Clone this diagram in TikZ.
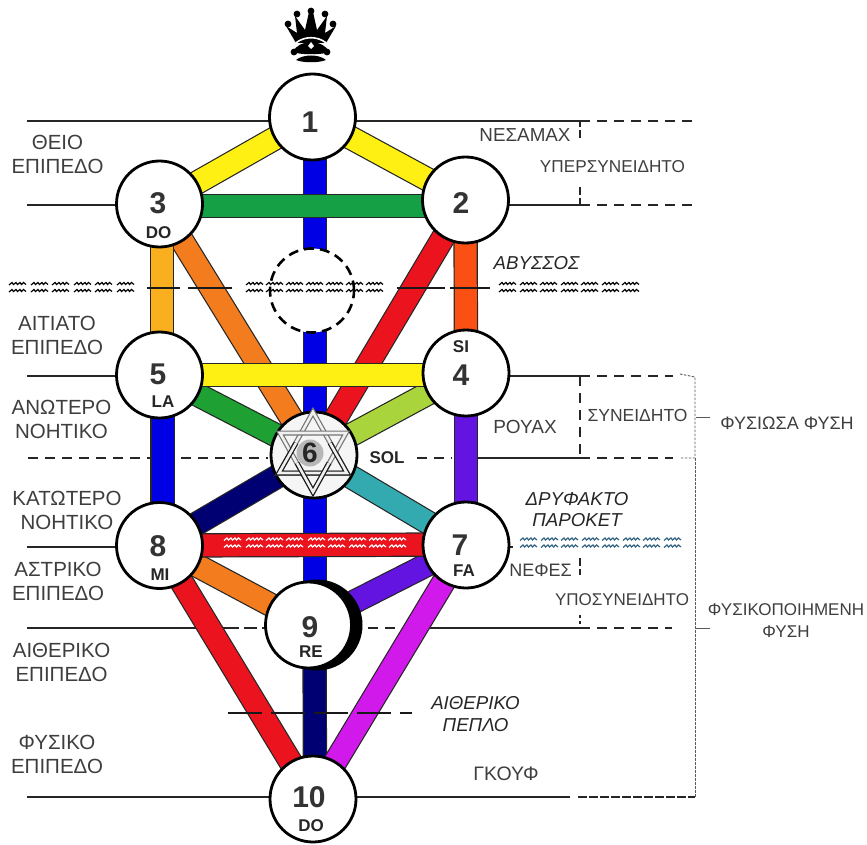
\documentclass[tikz,border=0pt]{standalone}
\usepackage{fontspec}
\setmainfont{Liberation Sans}
\usetikzlibrary{backgrounds}
\definecolor{textgray}{RGB}{62,62,62}
\definecolor{barblue}{RGB}{0,0,228}
\definecolor{bargreen}{RGB}{22,160,70}
\definecolor{baryellow}{RGB}{255,240,20}
\definecolor{baramber}{RGB}{250,175,30}
\definecolor{barorange}{RGB}{243,125,30}
\definecolor{barflame}{RGB}{250,80,20}
\definecolor{barred}{RGB}{235,20,30}
\definecolor{barlime}{RGB}{170,212,60}
\definecolor{barleaf}{RGB}{30,160,50}
\definecolor{barviolet}{RGB}{100,20,225}
\definecolor{barnavy}{RGB}{0,0,115}
\definecolor{barteal}{RGB}{50,170,175}
\definecolor{barmagenta}{RGB}{210,25,235}
\definecolor{wavesea}{RGB}{50,100,130}
\begin{document}
\begin{tikzpicture}[x=1pt,y=-1pt]
          \tikzset{
            sefira/.style = { circle, draw, fill = white, line width = 2.8pt,
              minimum size = 86pt, inner sep = 0pt },
            numeral/.style = { inner sep = 0pt, text = black!80,
              font = \fontsize{30}{30}\selectfont\bfseries },
            note/.style = { inner sep = 0pt, text = black!85,
              font = \fontsize{17}{17}\selectfont\bfseries },
            plane/.style = { inner sep = 0pt, align = center, text = textgray,
              font = \fontsize{20.5}{24}\selectfont },
            state/.style = { inner sep = 0pt, align = center, text = textgray,
              font = \fontsize{17.2}{22}\selectfont },
            veil/.style = { inner sep = 0pt, align = center, text = black!85,
              font = \fontsize{18.7}{21.5}\selectfont\itshape },
            bar/.style = { draw = black!85, line width = 1.2pt,
              double = #1, double distance = 22pt },
            level/.style = { line width = 2pt, black!85 },
            dashlevel/.style = { line width = 2pt, black!85,
              dash pattern = on 10pt off 7pt },
            abyssline/.style = { line width = 2.6pt, black!90 },
            bracket/.style = { line width = .9pt, black!65,
              dash pattern = on 2.5pt off 1.5pt },
            starline/.style = { line width = 1.2pt, double = black!6,
              double distance = 2.6pt, line join = miter },
            wavemark/.pic = {
              \draw[line width = 1.2pt, pic actions] (-9,-2) -- (-6,-4.5) -- (-4.5,-2.5) -- (-2,-4.5)
                -- (-.5,-2.5) -- (2,-4.5) -- (3.5,-2.5) -- (5.5,-4.5) -- (8,-2.5);
              \draw[line width = 1.2pt, pic actions] (-9,5) -- (-6,2.5) -- (-4.5,4.5) -- (-2,2.5)
                -- (-.5,4.5) -- (2,2.5) -- (3.5,4.5) -- (5.5,2.5) -- (8,4.5);
            } }
          \useasboundingbox (0,0) rectangle (867,845);

          % crown
          \fill[black] (296,43) -- (286,26) -- (297,33) -- (295,16) -- (305,30) -- (309,12) -- (313,12)
            -- (317,30) -- (327,16) -- (325,33) -- (336,26) -- (326,43) -- cycle;
          \foreach \x/\y in {288/24,297/14,311/11,325/14,333/24,294/52,327/52}
            \fill[black] (\x,\y) circle (3.4pt);
          \draw[white, line width = 1.6pt] (291,49) .. controls (299,34) and (323,34) .. (331,49);
          \fill[black] (293,52) .. controls (298,39) and (324,39) .. (329,52)
            .. controls (323,55) and (299,55) .. cycle;
          \fill[white] (308,46) -- (311,42) -- (314,46) -- (311,49) -- cycle;
          \fill[black] (296,60) .. controls (303,54) and (319,54) .. (326,60)
            .. controls (319,63) and (303,63) .. cycle;

          % the hidden sphere and the crescent go first
          \node[circle, draw, fill = white, line width = 2.6pt, minimum size = 84pt,
            dash pattern = on 10pt off 6pt] (daath) at (312,290.5) {};
          \node[circle, fill = black, minimum size = 91pt, inner sep = 0pt] (crescent) at (317,625) {};

          \node[sefira] (one) at (312.5,117) {};
          \node[sefira] (two) at (465.5,200) {};
          \node[sefira] (three) at (159.5,204) {};
          \node[sefira] (four) at (466,373) {};
          \node[sefira] (five) at (159.5,375) {};
          \node[sefira, fill = black!4] (six) at (314,455) {};
          \node[sefira] (seven) at (466,545) {};
          \node[sefira] (eight) at (159.5,545.5) {};
          \node[sefira] (nine) at (308.5,625) {};
          \node[sefira] (ten) at (313,799) {};

          \node[numeral] (numone) at (310,122) {1};
          \node[numeral] (numtwo) at (461,203) {2};
          \node[numeral] (numthree) at (158,203) {3};
          \node[numeral] (numfour) at (461,375) {4};
          \node[numeral] (numfive) at (158,374) {5};
          \node[numeral] (numseven) at (460,545) {7};
          \node[numeral] (numeight) at (158,546) {8};
          \node[numeral] (numnine) at (310,627) {9};
          \node[numeral] (numten) at (309,797) {10};

          \node[note] (doup) at (158.5,233) {DO};
          \node[note] (la) at (163,402) {LA};
          \node[note] (si) at (461,347) {SI};
          \node[note] (mi) at (160,575) {MI};
          \node[note] (fa) at (464,571) {FA};
          \node[note] (re) at (311,652) {RE};
          \node[note] (dolow) at (311,826) {DO};
          \node[note] (sol) at (387,458) {SOL};

          % star of the sixth sphere
          \draw[starline, black!55] (313,412) -- (347,473) -- (279,473) -- cycle;
          \draw[starline, black!55] (313,492) -- (346,433) -- (280,433) -- cycle;
          \draw[starline, black!90] (296,443) -- (279,473) -- (347,473) -- (330,443);
          \draw[starline, black!90] (297,463) -- (313,492) -- (329,463);
          \node[circle, fill = black!28, minimum size = 27pt, inner sep = 0pt, text = black!85,
            font = \fontsize{28}{28}\selectfont\bfseries] (numsix) at (310,453) {6};

          % free ends of the levels
          \coordinate (topL) at (27,121);    \coordinate (topM) at (580,121);   \coordinate (topR) at (698,121);
          \coordinate (upL) at (27,205);     \coordinate (upM) at (580,205);    \coordinate (upR) at (698,205);
          \coordinate (abyssL) at (147,288); \coordinate (abyssA) at (232,288);
          \coordinate (abyssB) at (397,288); \coordinate (abyssR) at (490,288);
          \coordinate (causeL) at (27,376);  \coordinate (causeM) at (580,376); \coordinate (causeR) at (673,376);
          \coordinate (mindL) at (28,458);   \coordinate (mindA) at (268,458);
          \coordinate (mindB) at (417,458);  \coordinate (mindC) at (452,458);
          \coordinate (mindD) at (478,458);  \coordinate (mindM) at (580,458);  \coordinate (mindR) at (673,458);
          \coordinate (lowL) at (27,547);    \coordinate (lowR) at (513,547);
          \coordinate (astralL) at (27,628); \coordinate (astralA) at (226,628);\coordinate (astralB) at (265,628);
          \coordinate (astralC) at (368,628);\coordinate (astralD) at (400,628);
          \coordinate (astralE) at (430,628);\coordinate (astralM) at (580,628);\coordinate (astralR) at (672,628);
          \coordinate (etherL) at (228,713); \coordinate (etherR) at (412,713);
          \coordinate (groundL) at (27,797); \coordinate (groundM) at (570,797);\coordinate (groundA) at (578,797);
          \coordinate (groundR) at (695,797);
          \coordinate (tickA) at (580,140);  \coordinate (tickB) at (580,187);
          \coordinate (tickC) at (580,558);  \coordinate (tickD) at (580,578);  \coordinate (tickE) at (580,615);
          \coordinate (brackA) at (680,374); \coordinate (brackB) at (695,377); \coordinate (brackC) at (695,458);
          \coordinate (brackD) at (680,458); \coordinate (brackE) at (696,417); \coordinate (brackF) at (710,417);
          \coordinate (brackG) at (696,628); \coordinate (brackH) at (710,628);

          \begin{scope}[on background layer]
          % levels
          \draw[level] (topL) -- (topM);
          \draw[dashlevel] (topM) -- (topR);
          \draw[level] (upL) -- (upL -| three.center);
          \draw[level] (upM -| two.center) -- (upM);
          \draw[dashlevel] (upM) -- (upR);
          \draw[level] (causeL) -- (causeL -| five.center);
          \draw[level] (causeM -| four.center) -- (causeM);
          \draw[dashlevel] (causeM) -- (causeR);
          \draw[dashlevel] (mindL) -- (mindA);
          \draw[dashlevel] (mindB) -- (mindC);
          \draw[level] (mindD) -- (mindM);
          \draw[dashlevel] (mindM) -- (mindR);
          \draw[level] (lowL) -- (lowL -| eight.center);
          \draw[level] (lowR -| seven.center) -- (lowR);
          \draw[level] (astralL) -- (astralA);
          \draw[dashlevel, dash pattern = on 13pt off 5pt] (astralA) -- (astralB);
          \draw[dashlevel] (astralC) -- (astralD);
          \draw[level] (astralE) -- (astralM);
          \draw[dashlevel] (astralM) -- (astralR);
          \draw[level] (groundL) -- (groundM);
          \draw[dashlevel, line width = 2.4pt, dash pattern = on 9pt off 2pt] (groundA) -- (groundR);

          % paths behind the spheres, lowest first
          \draw[bar = barblue] ([xshift = 2.5pt]one.center) -- ([xshift = 1pt]six.center);
          \draw[bar = barblue] ([xshift = 1pt]six.center) -- ([xshift = 6.5pt]nine.center);
          \draw[bar = barnavy] ([xshift = 6pt]nine.center) -- ([xshift = 2pt]ten.center);
          \draw[bar = baryellow] (one.center) -- (three.center);
          \draw[bar = baryellow] (one.center) -- (two.center);
          \draw[bar = barorange] (three.center) -- (six.center);
          \draw[bar = barred] (two.center) -- (six.center);
          \draw[bar = baramber] ([xshift = 2.5pt]three.center) -- ([xshift = 2.5pt]five.center);
          \draw[bar = barflame] (two.center) -- (four.center);
          \draw[bar = barblue] ([xshift = 3pt]five.center) -- ([xshift = 3pt]eight.center);
          \draw[bar = barviolet] (four.center) -- (seven.center);
          \draw[bar = barleaf] (five.center) -- (six.center);
          \draw[bar = barlime] (four.center) -- (six.center);
          \draw[bar = barnavy] (eight.center) -- (six.center);
          \draw[bar = barteal] (seven.center) -- (six.center);
          \draw[bar = barorange] (eight.center) -- (nine.center);
          \draw[bar = barviolet] (seven.center) -- (nine.center);
          \draw[bar = barred] (eight.center) -- (ten.center);
          \draw[bar = barmagenta] (seven.center) -- (ten.center);
          \draw[bar = bargreen] ([yshift = -2pt]three.center) -- ([yshift = -6pt]two.center);
          \draw[bar = baryellow] (five.center) -- ([yshift = -2pt]four.center);
          \draw[bar = barred] (eight.center) -- ([yshift = .5pt]seven.center);

          % these two run over the paths
          \draw[abyssline, dash pattern = on 33pt off 8pt on 44pt off 8pt] (abyssL) -- (abyssA);
          \draw[abyssline, dash pattern = on 48pt off 5pt on 40pt off 8pt] (abyssB) -- (abyssR);
          \draw[abyssline, dash pattern = on 34pt off 9pt] (etherL) -- (etherR);
          \end{scope}

          \draw[dashlevel, dash pattern = on 6pt off 3pt on 8pt off 3pt] (topM) -- (tickA);
          \draw[dashlevel, dash pattern = on 8pt off 3pt on 6pt off 3pt] (tickB) -- (upM);
          \draw[dashlevel] (causeM) -- (mindM);
          \draw[dashlevel, dash pattern = on 8pt off 3pt on 6pt off 3pt] (tickC) -- (tickD);
          \draw[dashlevel, dash pattern = on 3pt off 3pt] (tickE) -- (astralM);

          % brackets
          \draw[bracket] (brackA) -- (brackB) -- (brackC) -- (brackD);
          \draw[bracket] (brackC) -- (groundR);
          \draw[bracket, solid] (brackE) -- (brackF);
          \draw[bracket, solid] (brackG) -- (brackH);

          % waves
          \foreach \x in {18,40,61,83,104,126}
            \pic[black] at (\x,287) {wavemark};
          \foreach \x in {255,275,295,315,335,355,375}
            \pic[black] at (\x,287) {wavemark};
          \foreach \x in {508,529,549,570,590,611,631}
            \pic[black] at (\x,287) {wavemark};
          \foreach \x in {233,255,275,295,317,337,358,378,398}
            \pic[white] at (\x,542.5) {wavemark};
          \foreach \x in {529,550,570,591,611,632,652,673}
            \pic[wavesea] at (\x,542.5) {wavemark};

          % labels
          \node[plane] (divine) at (57.5,154) {ΘΕΙΟ\\ΕΠΙΠΕΔΟ};
          \node[plane] (causal) at (57,335.5) {ΑΙΤΙΑΤΟ\\ΕΠΙΠΕΔΟ};
          \node[plane] (uppermind) at (61.5,419) {ΑΝΩΤΕΡΟ\\ΝΟΗΤΙΚΟ};
          \node[plane] (lowermind) at (67,510) {ΚΑΤΩΤΕΡΟ\\ΝΟΗΤΙΚΟ};
          \node[plane] (astral) at (58,581.5) {ΑΣΤΡΙΚΟ\\ΕΠΙΠΕΔΟ};
          \node[plane] (etheric) at (61.5,662.5) {ΑΙΘΕΡΙΚΟ\\ΕΠΙΠΕΔΟ};
          \node[plane] (physical) at (57,754) {ΦΥΣΙΚΟ\\ΕΠΙΠΕΔΟ};

          \node[state, font = \fontsize{18.8}{22}\selectfont] (nesamah) at (525,135) {ΝΕΣΑΜΑΧ};
          \node[state] (supercon) at (612.5,167) {ΥΠΕΡΣΥΝΕΙΔΗΤΟ};
          \node[state, font = \fontsize{17.5}{22}\selectfont] (conscious) at (637.5,415) {ΣΥΝΕΙΔΗΤΟ};
          \node[state, font = \fontsize{19}{22}\selectfont] (ruach) at (525,427) {ΡΟΥΑΧ};
          \node[state, font = \fontsize{18}{22}\selectfont] (naturing) at (787,423) {ΦΥΣΙΩΣΑ ΦΥΣΗ};
          \node[state, font = \fontsize{18}{22}\selectfont] (nefesh) at (540.5,570) {ΝΕΦΕΣ};
          \node[state, font = \fontsize{17}{22}\selectfont] (subcon) at (622,600) {ΥΠΟΣΥΝΕΙΔΗΤΟ};
          \node[state, font = \fontsize{17}{22}\selectfont] (natured) at (786,621) {ΦΥΣΙΚΟΠΟΙΗΜΕΝΗ\\ΦΥΣΗ};
          \node[state, font = \fontsize{19.5}{22}\selectfont] (guf) at (506,774) {ΓΚΟΥΦ};

          \node[veil] (abyss) at (536.5,263) {ΑΒΥΣΣΟΣ};
          \node[veil] (parochet) at (577,509.5) {ΔΡΥΦΑΚΤΟ\\ΠΑΡΟΚΕΤ};
          \node[veil] (ethveil) at (475.5,714) {ΑΙΘΕΡΙΚΟ\\ΠΕΠΛΟ};

        \end{tikzpicture}
\end{document}
